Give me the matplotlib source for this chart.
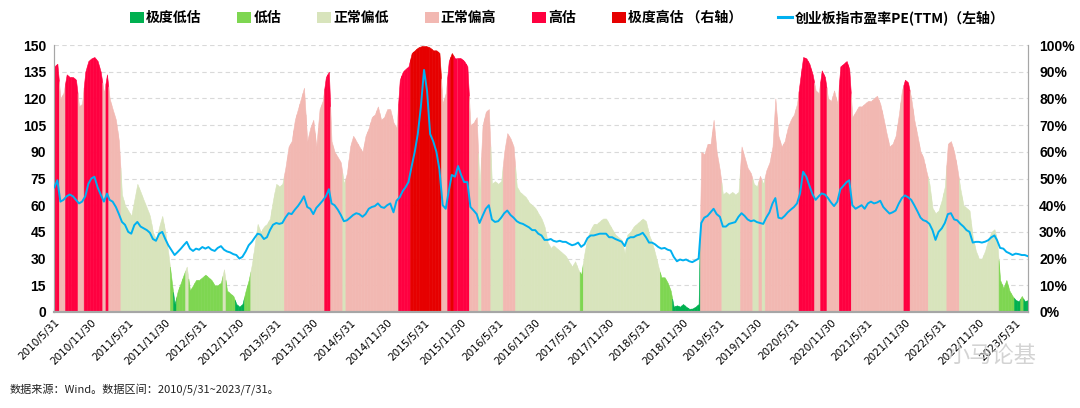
import numpy as np
import pandas as pd
import matplotlib
matplotlib.use('Agg')
import matplotlib.pyplot as plt
import matplotlib.dates as mdates
from matplotlib.patches import Patch
from matplotlib.lines import Line2D
from matplotlib import font_manager
from matplotlib.font_manager import FontProperties

# ---------------- data (semi-monthly) ----------------
# percentile of PE (right axis, %)
pct_2010 = [92, 93, 80, 82, 89, 88, 88, 87, 77, 78, 90, 94, 95, 95.5, 94]
pct_2011 = [90, 82, 89, 80, 76, 72, 64, 44, 40, 38, 36, 42, 48, 45, 42, 39, 36, 30, 27, 32, 36, 30, 22, 12]
pct_2012 = [3, 8, 11, 14, 17, 8, 10, 12, 12, 13, 14, 13, 12, 10, 10, 11, 16, 8, 7, 6, 3, 2, 3, 8]
pct_2013 = [12, 18, 26, 33, 30, 32, 33, 35, 42, 48, 47, 48, 54, 62, 64, 72, 76, 80, 84, 64, 69, 72, 62, 76]
pct_2014 = [79, 88, 90, 64, 60, 58, 56, 48, 52, 62, 66, 64, 62, 60, 66, 69, 73, 74, 77, 72, 73, 76, 76, 71]
pct_2015 = [69, 87, 90, 91, 92, 97, 98, 99, 99.5, 99.5, 99.5, 99, 98, 98, 97, 78, 82, 94, 97, 95, 95, 95, 94, 92]
pct_2016 = [70, 71, 73, 46, 70, 75, 76, 48, 49, 48, 49, 60, 67, 65, 62, 47, 45, 44, 43, 41, 40, 39, 37, 35]
pct_2017 = [32, 26, 24, 25, 24, 23, 22, 21, 19, 17, 19, 16, 14, 22, 28, 31, 33, 33, 34, 35, 35, 33, 31, 29]
pct_2018 = [28, 27, 22, 29, 30, 32, 33, 34, 35, 34, 29, 26, 22, 17, 13, 13, 11, 8, 2, 2.5, 2, 3, 2, 1.2]
pct_2019 = [1.3, 2, 3, 60, 59, 63, 63, 72, 60, 53, 44, 45, 44, 45, 44, 45, 62, 58, 54, 52, 48, 47, 51, 48]
pct_2020 = [53, 56, 62, 80, 66, 62, 64, 69, 72, 74, 78, 87, 95.5, 95, 93, 89, 83, 82, 90.5, 88, 80, 79, 83, 78]
pct_2021 = [92, 93, 94, 91, 73, 75, 77, 77, 78, 79, 79, 80, 81, 78, 73, 67, 62, 63, 66, 74, 83, 87, 86, 80]
pct_2022 = [72, 66, 60, 58, 53, 48, 39, 37, 38, 42, 47, 63, 64, 60, 54, 46, 40, 39, 38, 28, 23, 20, 20, 23]
pct_2023 = [27, 30, 31, 27, 12, 9, 12, 8, 6, 4.5, 4, 6, 4, 4.5]

# ChiNext PE(TTM) (left axis)
pe_2010 = [70, 74, 62, 63, 65, 66, 65, 63, 61, 62, 65, 72, 75, 76, 70]
pe_2011 = [66, 62, 66.5, 63, 62, 59, 55, 50.6, 49, 45, 44, 48.8, 50.6, 48, 47, 46, 44.5, 41, 40, 44, 45, 41, 37.5, 34.7]
pe_2012 = [32, 33.8, 35.6, 37.5, 39.4, 35.6, 34.3, 35.6, 35, 36.5, 35.6, 36.5, 35, 34.3, 36, 37, 35, 34, 33.5, 32.5, 32, 30, 31, 34]
pe_2013 = [37.5, 39.5, 42, 44, 43.5, 41, 42, 46, 49, 50, 49.5, 50, 53, 55.5, 55, 57.5, 59.5, 62, 65, 59, 58, 55, 58.5, 60.5]
pe_2014 = [62.5, 65, 69, 61, 60, 57.5, 54.5, 51, 51.5, 53, 54.5, 55.5, 55, 53.5, 55, 58, 59, 59.5, 61, 59, 58.5, 60, 61, 56]
pe_2015 = [62.5, 64.5, 68, 70, 73, 82, 90, 100, 115, 136, 124, 100, 96, 90, 80, 60, 58, 68, 77, 76, 82, 77, 73, 73]
pe_2016 = [59, 57, 55, 50, 54, 58, 60, 52, 50.6, 51, 53, 55.5, 57, 54.5, 53, 51, 50, 49.5, 48.5, 47.5, 46, 46, 44, 43]
pe_2017 = [40.5, 40.5, 41, 40, 39.5, 40, 39.4, 39.4, 38.4, 37.5, 38, 39, 36.6, 38, 41.5, 43, 43, 43.5, 44, 44, 44, 42, 42, 41]
pe_2018 = [40.3, 39.5, 37, 41, 42, 42, 43, 43.5, 44.5, 42, 39, 39, 38, 36.5, 35.6, 36, 35, 34.5, 31, 28.5, 29.5, 29, 29.5, 28.5]
pe_2019 = [28, 29, 30, 50, 53, 54, 56, 58, 55, 53.5, 48, 48, 49.5, 50, 50.5, 53.5, 55.5, 54, 52, 51, 51.5, 50.5, 50, 49.5]
pe_2020 = [53, 56, 61, 64, 53, 52.5, 54, 56, 57.5, 59, 61, 66.6, 78.8, 76, 71, 66, 63, 65, 66.6, 66, 64, 61.5, 59.5, 62]
pe_2021 = [69, 71, 73, 74, 60, 58, 59, 60, 58, 61, 62, 61, 61.5, 62.5, 59, 57, 55.3, 56, 57, 61, 64, 65.5, 64.5, 63]
pe_2022 = [60, 56.5, 53, 51.6, 51, 49.5, 46, 40.5, 45, 47, 50, 55, 55.5, 52, 51.5, 49.5, 48, 46, 45, 39, 39.4, 39.4, 39, 39.5]
pe_2023 = [40.3, 42, 43, 40.3, 36, 35.6, 33.8, 33, 32, 32.8, 32.5, 32, 32, 31.3]

tick_labels = ["2010/5/31", "2010/11/30", "2011/5/31", "2011/11/30", "2012/5/31", "2012/11/30",
               "2013/5/31", "2013/11/30", "2014/5/31", "2014/11/30", "2015/5/31", "2015/11/30",
               "2016/5/31", "2016/11/30", "2017/5/31", "2017/11/30", "2018/5/31", "2018/11/30",
               "2019/5/31", "2019/11/30", "2020/5/31", "2020/11/30", "2021/5/31", "2021/11/30",
               "2022/5/31", "2022/11/30", "2023/5/31"]

band_labels = ["极度低估", "低估", "正常偏低", "正常偏高", "高估", "极度高估"]
band_limits = [5, 15, 50, 85, 96]
band_colors = ["#00B050", "#7ED651", "#D8E4BC", "#F2B8B2", "#FF0040", "#E60000"]
line_label = "创业板指市盈率PE(TTM)（左轴）"
right_note = " （右轴）"
source_text = "数据来源：Wind。数据区间：2010/5/31~2023/7/31。"
watermark = "小马论基"

# ---------------- assemble ----------------
pct = np.array(pct_2010 + pct_2011 + pct_2012 + pct_2013 + pct_2014 + pct_2015 + pct_2016 +
               pct_2017 + pct_2018 + pct_2019 + pct_2020 + pct_2021 + pct_2022 + pct_2023, dtype=float)
pe = np.array(pe_2010 + pe_2011 + pe_2012 + pe_2013 + pe_2014 + pe_2015 + pe_2016 +
              pe_2017 + pe_2018 + pe_2019 + pe_2020 + pe_2021 + pe_2022 + pe_2023, dtype=float)
try:
    dates = pd.date_range("2010-05-31", "2023-07-31", freq="SME")
except Exception:
    dates = pd.date_range("2010-05-31", "2023-07-31", freq="SM")
n = min(len(dates), len(pct), len(pe))
dates, pct, pe = dates[:n], pct[:n], pe[:n]

xn = mdates.date2num(dates.to_pydatetime())
band_idx = np.digitize(pct, band_limits)

# ---------------- fonts ----------------
avail = {f.name for f in font_manager.fontManager.ttflist}
num_family = ["Liberation Sans Narrow", "Liberation Sans"] if "Liberation Sans Narrow" in avail else ["Liberation Sans"]
cjk = ["Noto Sans CJK SC", "DejaVu Sans"]
plt.rcParams["font.family"] = cjk

# ---------------- figure ----------------
fig = plt.figure(figsize=(10.8, 4.08), dpi=100)
ax = fig.add_axes([0.0503, 0.2353, 0.9016, 0.6544])   # percentile fills (right ticks)
ax2 = ax.twinx()                                        # PE line (left ticks)

ax.set_axisbelow(True)
ax.yaxis.grid(True, linestyle=(0, (4, 3)), color="#D9D9D9", linewidth=0.8)

# area fill: each observation coloured by its valuation band
for i in range(n):
    xl = xn[i] if i == 0 else (xn[i - 1] + xn[i]) / 2
    yl = pct[i] if i == 0 else (pct[i - 1] + pct[i]) / 2
    xr = xn[i] if i == n - 1 else (xn[i] + xn[i + 1]) / 2
    yr = pct[i] if i == n - 1 else (pct[i] + pct[i + 1]) / 2
    c = band_colors[band_idx[i]]
    ax.fill_between([xl, xn[i], xr], 0, [yl, pct[i], yr], facecolor=c,
                    edgecolor=c, linewidth=0.4, zorder=2)

ax.xaxis_date()
ax.set_ylim(0, 100)
ax.set_xlim(xn[0], xn[-1])
ax.yaxis.tick_right()
ax.set_yticks(np.arange(0, 101, 10))
ax.set_yticklabels([f"{v}%" for v in range(0, 101, 10)])

ax2.plot(xn, pe, color="#00B0F0", linewidth=1.4, zorder=3)
ax2.set_ylim(0, 150)
ax2.yaxis.tick_left()
ax2.set_yticks(np.arange(0, 151, 15))
ax2.set_xlim(xn[0], xn[-1])

num_fp = FontProperties(family=num_family, size=10, weight="bold")
for lab in ax.get_yticklabels():
    lab.set_fontproperties(num_fp)
for lab in ax2.get_yticklabels():
    lab.set_fontproperties(num_fp)
ax.tick_params(axis="y", length=0, pad=8, colors="black")
ax2.tick_params(axis="y", length=0, pad=6, colors="black")

tick_pos = mdates.date2num(pd.to_datetime(tick_labels, format="%Y/%m/%d").to_pydatetime())
ax.set_xticks(tick_pos)
ax.set_xticklabels(tick_labels, rotation=45, ha="right", rotation_mode="anchor",
                   fontsize=7.5, family=["DejaVu Sans"])
ax.tick_params(axis="x", direction="in", length=3, color="#A0A0A0", pad=4)

for a in (ax, ax2):
    a.spines["top"].set_visible(False)
    for s in ("left", "right"):
        a.spines[s].set_color("#A6A6A6")
        a.spines[s].set_linewidth(0.8)
    a.spines["bottom"].set_color("#A6A6A6")
    a.spines["bottom"].set_linewidth(1.5)

# legend
handles = [Patch(facecolor=c, edgecolor="none") for c in band_colors] + \
          [Line2D([], [], color="#00B0F0", linewidth=2.2)]
labels = band_labels[:-1] + [band_labels[-1] + right_note] + [line_label]
fig.legend(handles, labels, loc="center", bbox_to_anchor=(0.525, 0.957), ncol=7,
           frameon=False, prop=FontProperties(family=cjk, size=10, weight="bold"),
           handlelength=1.0, handleheight=0.85, handletextpad=0.15, columnspacing=2.6,
           borderaxespad=0)

fig.text(0.009, 0.047, source_text, fontsize=8, family=cjk, color="#222222", va="center")
fig.text(0.918, 0.128, watermark, fontsize=16, family=cjk, color="#C8C8C8", alpha=0.8,
         va="center", ha="center")

fig.savefig("out.png", dpi=100)
